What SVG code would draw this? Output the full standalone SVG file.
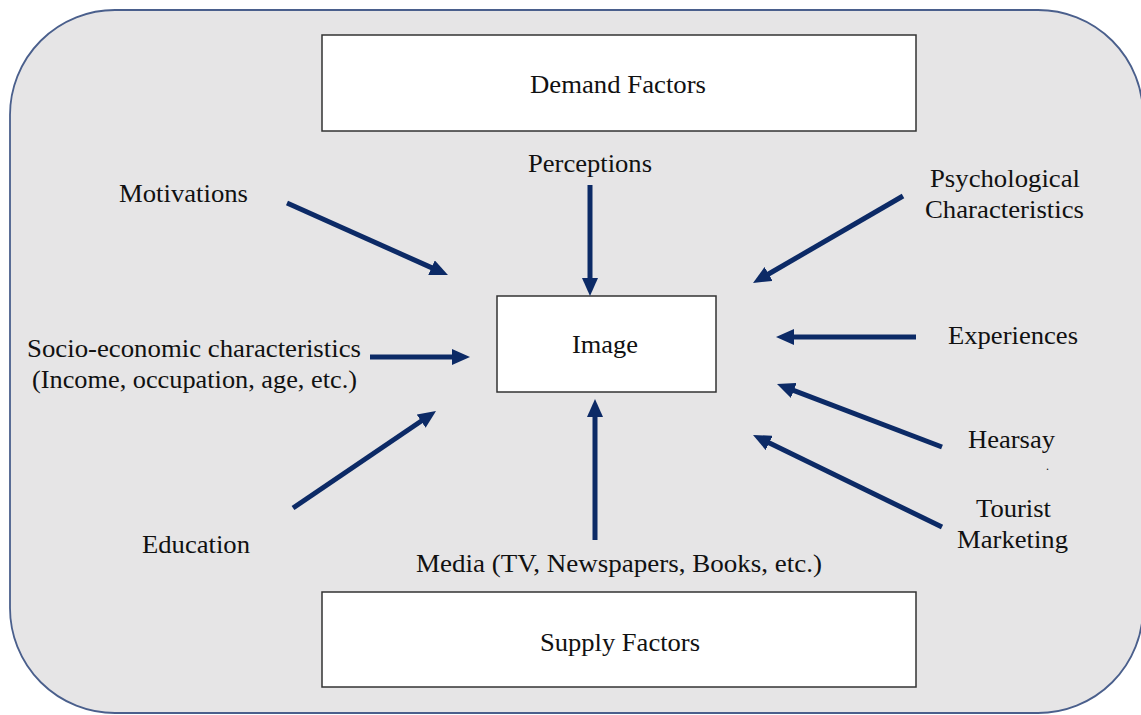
<svg xmlns="http://www.w3.org/2000/svg" width="1141" height="715" viewBox="0 0 1141 715">
<style>
.t{font-family:"Liberation Serif","DejaVu Serif","Noto Serif","Times New Roman",serif;font-size:26px;fill:#111;}
.box{fill:#ffffff;stroke:#333333;stroke-width:1.5;}
.arr{stroke:#0c2a66;stroke-width:5;fill:none;marker-end:url(#ah);}
</style>
<defs>
<marker id="ah" markerUnits="userSpaceOnUse" markerWidth="18" markerHeight="16" refX="6" refY="8" orient="auto">
<path d="M0,0 L18,8 L0,16 Z" fill="#0c2a66"/>
</marker>
</defs>
<rect width="1141" height="715" fill="#ffffff"/>
<g id="frame">
<rect x="10" y="10" width="1133" height="703" rx="105" ry="105" fill="#e6e5e6" stroke="#4a5f8c" stroke-width="1.8"/>
</g>
<g id="demand">
<rect class="box" x="322" y="35" width="594" height="96"/>
<text class="t" x="530" y="93" textLength="176" lengthAdjust="spacingAndGlyphs">Demand Factors</text>
</g>
<g id="supply">
<rect class="box" x="322" y="592" width="594" height="95"/>
<text class="t" x="540" y="651" textLength="160" lengthAdjust="spacingAndGlyphs">Supply Factors</text>
</g>
<g id="image">
<rect class="box" x="497" y="296" width="219" height="96"/>
<text class="t" x="572" y="353" textLength="66" lengthAdjust="spacingAndGlyphs">Image</text>
</g>
<g id="motivations"><text class="t" x="119" y="202" textLength="129" lengthAdjust="spacingAndGlyphs">Motivations</text></g>
<g id="perceptions"><text class="t" x="528" y="172" textLength="124" lengthAdjust="spacingAndGlyphs">Perceptions</text></g>
<g id="psychological"><text class="t" x="930" y="187" textLength="150" lengthAdjust="spacingAndGlyphs">Psychological</text><text class="t" x="925" y="218" textLength="159" lengthAdjust="spacingAndGlyphs">Characteristics</text></g>
<g id="experiences"><text class="t" x="948" y="344" textLength="130" lengthAdjust="spacingAndGlyphs">Experiences</text></g>
<g id="socio"><text class="t" x="27" y="357" textLength="334" lengthAdjust="spacingAndGlyphs">Socio-economic characteristics</text><text class="t" x="32" y="388" textLength="325" lengthAdjust="spacingAndGlyphs">(Income, occupation, age, etc.)</text></g>
<g id="hearsay"><text class="t" x="968" y="448" textLength="87" lengthAdjust="spacingAndGlyphs">Hearsay</text><text class="t" x="1046" y="470" style="font-size:12px">.</text></g>
<g id="tourist"><text class="t" x="976" y="517" textLength="75" lengthAdjust="spacingAndGlyphs">Tourist</text><text class="t" x="957" y="548" textLength="111" lengthAdjust="spacingAndGlyphs">Marketing</text></g>
<g id="education"><text class="t" x="142" y="553" textLength="108" lengthAdjust="spacingAndGlyphs">Education</text></g>
<g id="media"><text class="t" x="416" y="572" textLength="406" lengthAdjust="spacingAndGlyphs">Media (TV, Newspapers, Books, etc.)</text></g>
<g id="connectors">
<line class="arr" x1="287" y1="203" x2="437" y2="270.1"/>
<line class="arr" x1="590" y1="185" x2="590" y2="284"/>
<line class="arr" x1="903" y1="196" x2="763.4" y2="277"/>
<line class="arr" x1="916" y1="337" x2="788" y2="337"/>
<line class="arr" x1="370" y1="357" x2="458" y2="357"/>
<line class="arr" x1="942" y1="447" x2="788.2" y2="388.3"/>
<line class="arr" x1="942" y1="527" x2="763.8" y2="440.3"/>
<line class="arr" x1="293" y1="508" x2="426.1" y2="417.7"/>
<line class="arr" x1="595" y1="540" x2="595" y2="411"/>
</g>
</svg>
